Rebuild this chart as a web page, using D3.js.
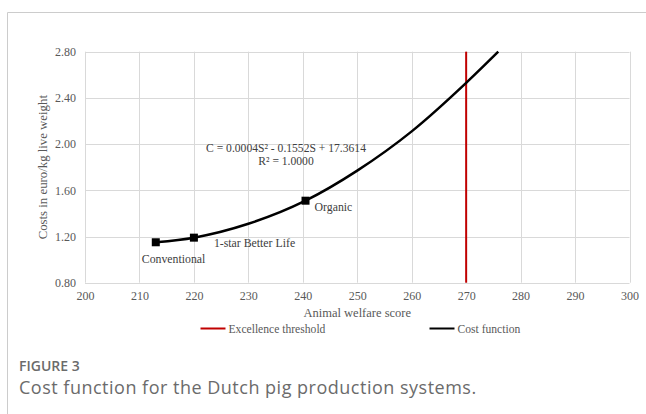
<!DOCTYPE html>
<html>
<head>
<meta charset="utf-8">
<script src="https://cdn.jsdelivr.net/npm/d3@7"></script>
<style>
  html, body { margin: 0; padding: 0; background: #fff; }
  svg { display: block; }
</style>
</head>
<body>
<svg id="chart" width="646" height="414"></svg>
<script>
// Welfare score axis and cost axis ticks
const xTicks = [200, 210, 220, 230, 240, 250, 260, 270, 280, 290, 300];
const yTicks = [0.8, 1.2, 1.6, 2.0, 2.4, 2.8];

// Production systems (score, cost in euro/kg live weight)
const systems = ["Conventional", "1-star Better Life", "Organic"];
const systemScores = [213, 220, 240.5];
const systemCosts = [1.15, 1.19, 1.51];

// Fitted cost function, sampled along the score axis
const curveScores = [213, 220, 230, 240.5, 250, 260, 270, 275.9];
const curveCosts = [1.15, 1.19, 1.31, 1.51, 1.77, 2.11, 2.53, 2.80];

// Excellence threshold score
const threshold = 270;

const legendLabels = ["Excellence threshold", "Cost function"];
const equationLines = ["C = 0.0004S\u00B2 - 0.1552S + 17.3614", "R\u00B2 = 1.0000"];

const svg = d3.select("#chart");
const serif = "'Liberation Serif', 'Times New Roman', serif";
const textGray = "#595959";

// card frame
svg.append("path")
  .attr("d", "M646,12.5 H7.5 V414")
  .attr("fill", "none")
  .attr("stroke", "#cccccc")
  .attr("stroke-width", 1);

const x = d3.scaleLinear().domain([200, 300]).range([85, 629.5]);
const y = d3.scaleLinear().domain([0.8, 2.8]).range([282.7, 51.7]);

// grid
const grid = svg.append("g").attr("stroke", "#d9d9d9").attr("stroke-width", 1);
grid.selectAll("line.v").data(xTicks).join("line")
  .attr("class", "v")
  .attr("x1", d => Math.round(x(d)) + 0.5).attr("x2", d => Math.round(x(d)) + 0.5)
  .attr("y1", y(2.8)).attr("y2", y(0.8));
grid.selectAll("line.h").data(yTicks).join("line")
  .attr("class", "h")
  .attr("y1", d => Math.round(y(d)) + 0.5).attr("y2", d => Math.round(y(d)) + 0.5)
  .attr("x1", x(200)).attr("x2", x(300));

// axes (labels only; lines come from the grid)
const xAxis = svg.append("g")
  .attr("transform", `translate(0,${y(0.8) + 5.5})`)
  .call(d3.axisBottom(x).tickValues(xTicks).tickSize(0).tickFormat(d3.format("d")));
xAxis.select(".domain").remove();
xAxis.selectAll("text")
  .attr("font-family", serif).attr("font-size", 12).attr("fill", textGray);

const yAxis = svg.append("g")
  .attr("transform", `translate(${x(200) - 6},0)`)
  .call(d3.axisLeft(y).tickValues(yTicks).tickSize(0).tickFormat(d3.format(".2f")));
yAxis.select(".domain").remove();
yAxis.selectAll("text")
  .attr("font-family", serif).attr("font-size", 12).attr("fill", textGray);

// axis titles
svg.append("text")
  .attr("x", (x(200) + x(300)) / 2).attr("y", 317)
  .attr("text-anchor", "middle")
  .attr("font-family", serif).attr("font-size", 12.5).attr("fill", textGray)
  .text("Animal welfare score");
svg.append("text")
  .attr("transform", `translate(47,${(y(0.8) + y(2.8)) / 2}) rotate(-90)`)
  .attr("text-anchor", "middle")
  .attr("font-family", serif).attr("font-size", 12.8).attr("fill", textGray)
  .text("Costs in euro/kg live weight");

// threshold line
svg.append("line")
  .attr("x1", x(threshold)).attr("x2", x(threshold))
  .attr("y1", y(2.8)).attr("y2", y(0.8))
  .attr("stroke", "#c00000").attr("stroke-width", 2);

// cost function curve
const line = d3.line()
  .x((d, i) => x(curveScores[i]))
  .y(d => y(d))
  .curve(d3.curveMonotoneX);
svg.append("path")
  .datum(curveCosts)
  .attr("d", line)
  .attr("fill", "none")
  .attr("stroke", "#000")
  .attr("stroke-width", 2.5);

// system markers
svg.selectAll("rect.sys").data(systems).join("rect")
  .attr("class", "sys")
  .attr("x", (d, i) => x(systemScores[i]) - 4)
  .attr("y", (d, i) => y(systemCosts[i]) - 4)
  .attr("width", 8).attr("height", 8)
  .attr("fill", "#000");

// system labels: [dx, dy] from each marker
const labelOffsets = [[-14, 17], [20, 5], [9, 6]];
svg.selectAll("text.sys").data(systems).join("text")
  .attr("class", "sys")
  .attr("x", (d, i) => x(systemScores[i]) + labelOffsets[i][0])
  .attr("y", (d, i) => y(systemCosts[i]) + labelOffsets[i][1])
  .attr("dy", "0.35em")
  .attr("font-family", serif).attr("font-size", 11.8).attr("fill", "#404040")
  .text(d => d);

// trendline equation
svg.selectAll("text.eq").data(equationLines).join("text")
  .attr("class", "eq")
  .attr("x", 286)
  .attr("y", (d, i) => 148 + i * 13)
  .attr("dy", "0.35em")
  .attr("text-anchor", "middle")
  .attr("font-family", serif).attr("font-size", 11.6).attr("fill", "#404040")
  .text(d => d);

// legend
const legendX = [200.5, 429.5];
const legendColors = ["#c00000", "#000"];
const legend = svg.selectAll("g.leg").data(legendLabels).join("g")
  .attr("class", "leg")
  .attr("transform", (d, i) => `translate(${legendX[i]},328.5)`);
legend.append("line")
  .attr("x1", 0).attr("x2", 25)
  .attr("stroke", (d, i) => legendColors[i]).attr("stroke-width", 2);
legend.append("text")
  .attr("x", 28).attr("dy", "0.35em")
  .attr("font-family", serif).attr("font-size", 11.6).attr("fill", textGray)
  .text(d => d);

// caption
svg.append("text")
  .attr("x", 19).attr("y", 371)
  .attr("font-family", "'Open Sans', sans-serif").attr("font-size", 14)
  .attr("font-weight", 600).attr("fill", "#6b6b6b")
  .text("FIGURE 3");
svg.append("text")
  .attr("x", 19).attr("y", 394)
  .attr("font-family", "'Open Sans', sans-serif").attr("font-size", 18)
  .attr("letter-spacing", 0.5)
  .attr("fill", "#6b6b6b")
  .text("Cost function for the Dutch pig production systems.");
</script>
</body>
</html>
